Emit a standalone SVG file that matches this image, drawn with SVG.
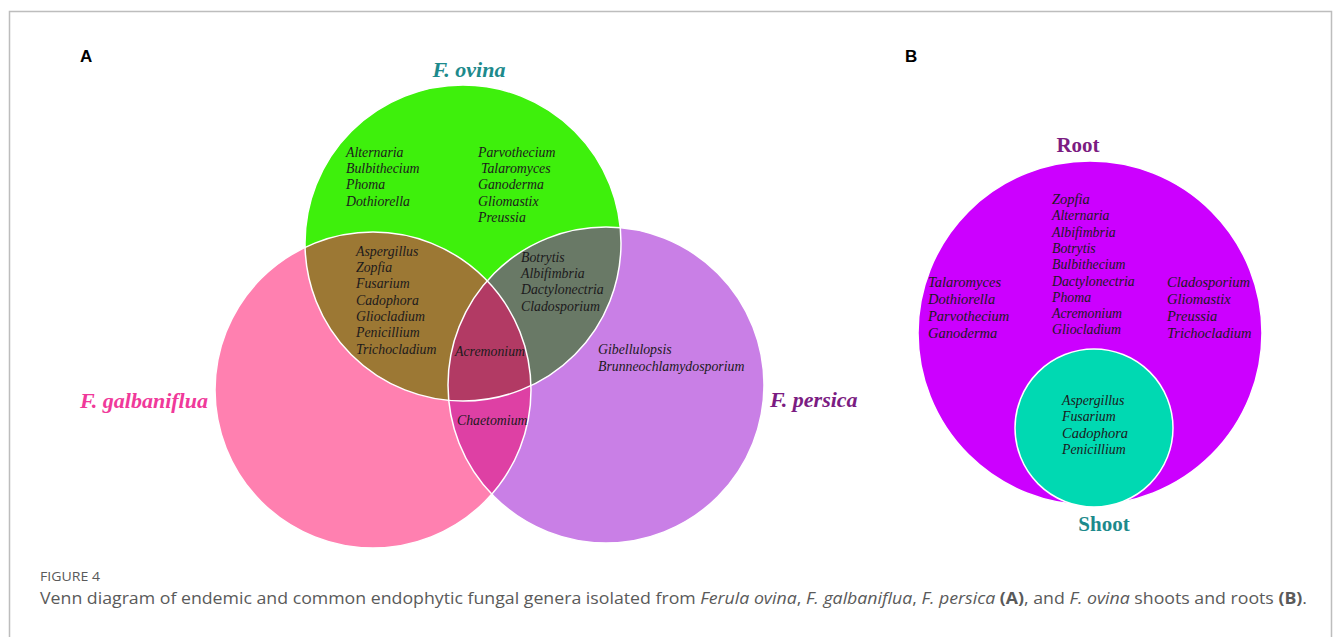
<svg xmlns="http://www.w3.org/2000/svg" width="1333" height="637" viewBox="0 0 1333 637">
<style>
.g{font-family:"Liberation Serif","Times New Roman",serif;font-style:italic;font-size:13.8px;fill:#1c1a1c}
.gb{font-family:"Liberation Serif","Times New Roman",serif;font-style:italic;font-size:14.5px;fill:#1c1a1c}
.t{font-family:"Liberation Serif","Times New Roman",serif;font-style:italic;font-weight:bold;font-size:22px}
.r{font-family:"Liberation Serif","Times New Roman",serif;font-weight:bold;font-size:21px}
.p{font-family:"Liberation Sans",Arial,sans-serif;font-weight:bold;font-size:17px;fill:#000}
.cap{font-family:"Open Sans","Noto Sans",sans-serif;fill:#5a5a5a}
.edge{fill:none;stroke:#fff;stroke-width:1.5}
</style>
<defs>
<clipPath id="cG"><circle cx="463" cy="243" r="158"/></clipPath>
<clipPath id="cP"><circle cx="373" cy="390" r="158"/></clipPath>
<clipPath id="cU"><circle cx="606" cy="385" r="158"/></clipPath>
</defs>
<rect width="1333" height="637" fill="#fff"/>
<path d="M9.5,637 V11.5 H1331.5 V637" fill="none" stroke="#bdbdbd" stroke-width="1.5"/>

<g id="panelA">
<text class="p" x="80" y="62">A</text>
<g id="ovina"><circle cx="463" cy="243" r="158" fill="#3ef00c"/></g>
<g id="galbaniflua"><circle cx="373" cy="390" r="158" fill="#ff80b0"/></g>
<g id="persica"><circle cx="606" cy="385" r="158" fill="#c97fe6"/></g>
<g id="overlaps">
<circle cx="463" cy="243" r="158" fill="#9c7834" clip-path="url(#cP)"/>
<circle cx="463" cy="243" r="158" fill="#697966" clip-path="url(#cU)"/>
<circle cx="373" cy="390" r="158" fill="#de40a4" clip-path="url(#cU)"/>
<g clip-path="url(#cU)"><circle cx="463" cy="243" r="158" fill="#b23a64" clip-path="url(#cP)"/></g>
</g>
<g id="edges">
<circle class="edge" cx="373" cy="390" r="158"/>
<circle class="edge" cx="606" cy="385" r="158"/>
<circle class="edge" cx="463" cy="243" r="158"/>
</g>
<text class="t" x="469" y="77" text-anchor="middle" fill="#1d8a8c">F. ovina</text>
<text class="t" x="80" y="408" fill="#f0399a">F. galbaniflua</text>
<text class="t" x="770" y="407" fill="#7b1c82">F. persica</text>
<g id="ovinaOnly">
<text class="g" x="346" y="157">Alternaria</text>
<text class="g" x="346" y="173">Bulbithecium</text>
<text class="g" x="346" y="189">Phoma</text>
<text class="g" x="346" y="206">Dothiorella</text>
<text class="g" x="478" y="157">Parvothecium</text>
<text class="g" x="481" y="173">Talaromyces</text>
<text class="g" x="478" y="189">Ganoderma</text>
<text class="g" x="478" y="206">Gliomastix</text>
<text class="g" x="478" y="222">Preussia</text>
</g>
<g id="ovinaGalb">
<text class="g" x="356" y="256">Aspergillus</text>
<text class="g" x="356" y="272">Zopfia</text>
<text class="g" x="356" y="288">Fusarium</text>
<text class="g" x="356" y="305">Cadophora</text>
<text class="g" x="356" y="321">Gliocladium</text>
<text class="g" x="356" y="337">Penicillium</text>
<text class="g" x="356" y="354">Trichocladium</text>
</g>
<g id="ovinaPers">
<text class="g" x="521" y="262">Botrytis</text>
<text class="g" x="521" y="278">Albifimbria</text>
<text class="g" x="521" y="294">Dactylonectria</text>
<text class="g" x="521" y="311">Cladosporium</text>
</g>
<text class="g" x="455" y="356">Acremonium</text>
<text class="g" x="457" y="425">Chaetomium</text>
<g id="persOnly">
<text class="g" x="598" y="354">Gibellulopsis</text>
<text class="g" x="598" y="371">Brunneochlamydosporium</text>
</g>
</g>

<g id="panelB">
<text class="p" x="905" y="62">B</text>
<g id="root">
<circle cx="1090" cy="333" r="172" fill="#cc00ff" stroke="#fff" stroke-width="1.5"/>
<text class="r" x="1078" y="152" text-anchor="middle" fill="#7b1c82">Root</text>
<text class="gb" x="1052" y="204">Zopfia</text>
<text class="g" x="1052" y="220">Alternaria</text>
<text class="g" x="1052" y="237">Albifimbria</text>
<text class="g" x="1052" y="253">Botrytis</text>
<text class="g" x="1052" y="269">Bulbithecium</text>
<text class="g" x="1052" y="286">Dactylonectria</text>
<text class="g" x="1052" y="302">Phoma</text>
<text class="g" x="1052" y="318">Acremonium</text>
<text class="g" x="1052" y="334">Gliocladium</text>
<text class="gb" x="928" y="287">Talaromyces</text>
<text class="gb" x="928" y="304">Dothiorella</text>
<text class="gb" x="928" y="321">Parvothecium</text>
<text class="gb" x="928" y="338">Ganoderma</text>
<text class="gb" x="1167" y="287">Cladosporium</text>
<text class="gb" x="1167" y="304">Gliomastix</text>
<text class="gb" x="1167" y="321">Preussia</text>
<text class="gb" x="1167" y="338">Trichocladium</text>
</g>
<g id="shoot">
<circle cx="1094" cy="428" r="79" fill="#00d9b2" stroke="#fff" stroke-width="1.5"/>
<text class="r" x="1104" y="531" text-anchor="middle" fill="#1d8a8c">Shoot</text>
<text class="g" x="1062" y="405">Aspergillus</text>
<text class="g" x="1062" y="421">Fusarium</text>
<text class="gb" x="1062" y="438">Cadophora</text>
<text class="g" x="1062" y="454">Penicillium</text>
</g>
</g>

<g id="caption">
<text class="cap" x="40" y="581" font-size="12.5" fill="#666" textLength="60" lengthAdjust="spacingAndGlyphs">FIGURE 4</text>
<text class="cap" x="40" y="604" font-size="16" textLength="1267" lengthAdjust="spacingAndGlyphs">Venn diagram of endemic and common endophytic fungal genera isolated from <tspan font-style="italic">Ferula ovina</tspan>, <tspan font-style="italic">F. galbaniflua</tspan>, <tspan font-style="italic">F. persica</tspan> <tspan font-weight="bold">(A)</tspan>, and <tspan font-style="italic">F. ovina</tspan> shoots and roots <tspan font-weight="bold">(B)</tspan>.</text>
</g>
</svg>
